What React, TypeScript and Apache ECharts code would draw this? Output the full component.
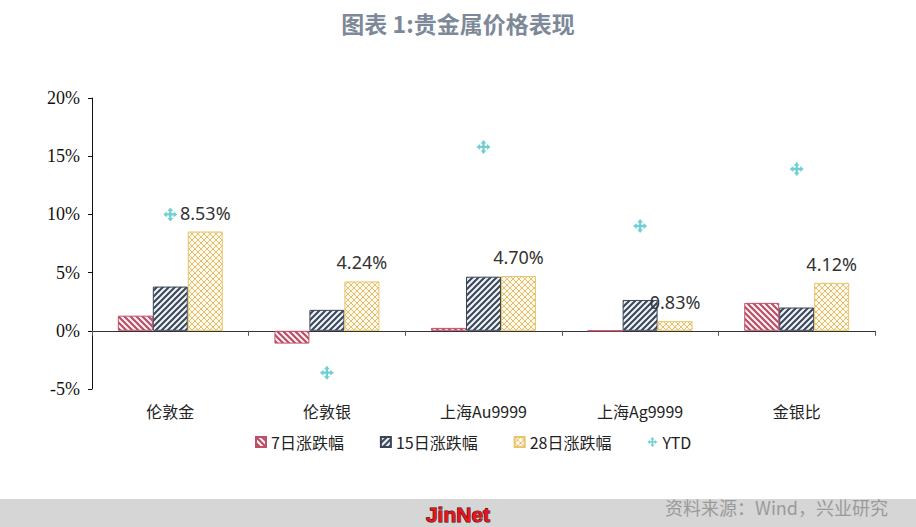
import React, { useEffect, useRef } from "react";
import * as echarts from "echarts";

const categories = ["伦敦金", "伦敦银", "上海Au9999", "上海Ag9999", "金银比"];
const chg7 = [1.3, -1.1, 0.25, 0, 2.4];
const chg15 = [3.8, 1.8, 4.65, 2.65, 2.0];
const chg28 = [8.53, 4.24, 4.7, 0.83, 4.12];
const ytd = [10.0, -3.6, 15.8, 9.0, 13.9];
const seriesNames = ["7日涨跌幅", "15日涨跌幅", "28日涨跌幅", "YTD"];

const MOVE_ICON =
  "path://M12,0 L17,6 L14,6 L14,10 L18,10 L18,7 L24,12 L18,17 L18,14 L14,14 L14,18 L17,18 L12,24 L7,18 L10,18 L10,14 L6,14 L6,17 L0,12 L6,7 L6,10 L10,10 L10,6 L7,6 Z";

function tile(s: number, bg: string, stroke: string, sw: number, kinds: string[]) {
  let d = "";
  if (kinds.includes("back")) {
    d += `M0,0 L${s},${s} M-1,${s - 1} L1,${s + 1} M${s - 1},-1 L${s + 1},1 `;
  }
  if (kinds.includes("fwd")) {
    d += `M0,${s} L${s},0 M-1,1 L1,-1 M${s - 1},${s + 1} L${s + 1},${s - 1} `;
  }
  const svg = `<svg xmlns="http://www.w3.org/2000/svg" width="${s}" height="${s}"><rect width="${s}" height="${s}" fill="${bg}"/><path d="${d}" stroke="${stroke}" stroke-width="${sw}" fill="none"/></svg>`;
  return {
    image: "data:image/svg+xml;charset=utf-8," + encodeURIComponent(svg),
    repeat: "repeat",
    imageWidth: s,
    imageHeight: s,
  } as any;
}

export default function App() {
  const ref = useRef<HTMLDivElement>(null);
  useEffect(() => {
    if (!ref.current) return;
    const chart = echarts.init(ref.current, null, { renderer: "svg" });
    const redFill = tile(6, "#fdf1f3", "#b94a63", 2, ["back"]);
    const blueFill = tile(6, "#eef3fa", "#3a4555", 2, ["fwd"]);
    const yellowFill = tile(6, "#fffaea", "#dcae55", 0.8, ["back", "fwd"]);
    const cjk = "Noto Sans CJK SC";
    chart.setOption({
      animation: false,
      backgroundColor: "#ffffff",
      title: {
        text: "图表 1:贵金属价格表现",
        left: "center",
        top: 6,
        textStyle: { fontSize: 23, fontWeight: "bold", color: "#7d8898", fontFamily: cjk },
      },
      legend: {
        left: 250,
        top: 429,
        itemWidth: 10,
        itemHeight: 10,
        itemGap: 36,
        textStyle: { fontSize: 16, color: "#222", fontFamily: cjk },
        data: [
          { name: seriesNames[0], icon: "rect" },
          { name: seriesNames[1], icon: "rect" },
          { name: seriesNames[2], icon: "rect" },
          { name: seriesNames[3], icon: MOVE_ICON },
        ],
      },
      grid: { left: 92, right: 41, top: 98, bottom: 138 },
      xAxis: [
        {
          type: "category",
          data: categories,
          position: "bottom",
          axisLine: { show: false, onZero: false },
          axisTick: { show: false },
          axisLabel: { margin: 14, fontSize: 16, color: "#222", fontFamily: cjk },
        },
        {
          type: "category",
          data: categories,
          position: "bottom",
          axisLine: { show: true, onZero: true, lineStyle: { color: "#333", width: 1 } },
          axisTick: { show: true, length: 5, lineStyle: { color: "#555" } },
          axisLabel: { show: false },
        },
      ],
      yAxis: {
        type: "value",
        min: -5,
        max: 20,
        interval: 5,
        splitLine: { show: false },
        axisLine: { show: true, lineStyle: { color: "#111", width: 1 } },
        axisTick: { show: true, length: 4, lineStyle: { color: "#111" } },
        axisLabel: {
          formatter: "{value}%",
          margin: 12,
          fontSize: 18,
          color: "#111",
          fontFamily: "Liberation Serif",
        },
      },
      series: [
        {
          name: seriesNames[0],
          type: "bar",
          data: chg7,
          barGap: "0%",
          barCategoryGap: "33%",
          itemStyle: { color: redFill, borderColor: "#c0506a", borderWidth: 1 },
        },
        {
          name: seriesNames[1],
          type: "bar",
          data: chg15,
          barGap: "0%",
          barCategoryGap: "33%",
          itemStyle: { color: blueFill, borderColor: "#3a4555", borderWidth: 1 },
        },
        {
          name: seriesNames[2],
          type: "bar",
          data: chg28,
          barGap: "0%",
          barCategoryGap: "33%",
          itemStyle: { color: yellowFill, borderColor: "#e8c46a", borderWidth: 1 },
          label: {
            show: true,
            position: "top",
            distance: 10,
            formatter: (p: any) => p.value.toFixed(2) + "%",
            fontSize: 18,
            color: "#333",
            fontFamily: "Noto Sans",
          },
        },
        {
          name: seriesNames[3],
          type: "scatter",
          data: ytd,
          symbol: MOVE_ICON,
          symbolSize: 14,
          itemStyle: { color: "#4cc3c6" },
          z: 5,
        },
      ],
      graphic: [
        {
          type: "rect",
          left: 0,
          top: 499,
          shape: { width: 916, height: 28 },
          style: { fill: "#d6d6d6" },
          silent: true,
        },
        {
          type: "text",
          x: 458,
          y: 514,
          style: {
            text: "JinNet",
            fill: "#e8141c",
            stroke: "#3a0000",
            lineWidth: 1,
            fontSize: 21,
            fontWeight: "bold",
            fontFamily: "Liberation Sans",
            align: "center",
            verticalAlign: "middle",
          },
        },
        {
          type: "text",
          x: 888,
          y: 507,
          style: {
            text: "资料来源：Wind，兴业研究",
            fill: "#9a9a9a",
            fontSize: 18,
            fontFamily: cjk,
            align: "right",
            verticalAlign: "middle",
          },
        },
      ],
    });
    return () => chart.dispose();
  }, []);
  return (
    <div
      ref={ref}
      style={{ position: "fixed", left: 0, top: 0, width: 916, height: 527 }}
    />
  );
}
